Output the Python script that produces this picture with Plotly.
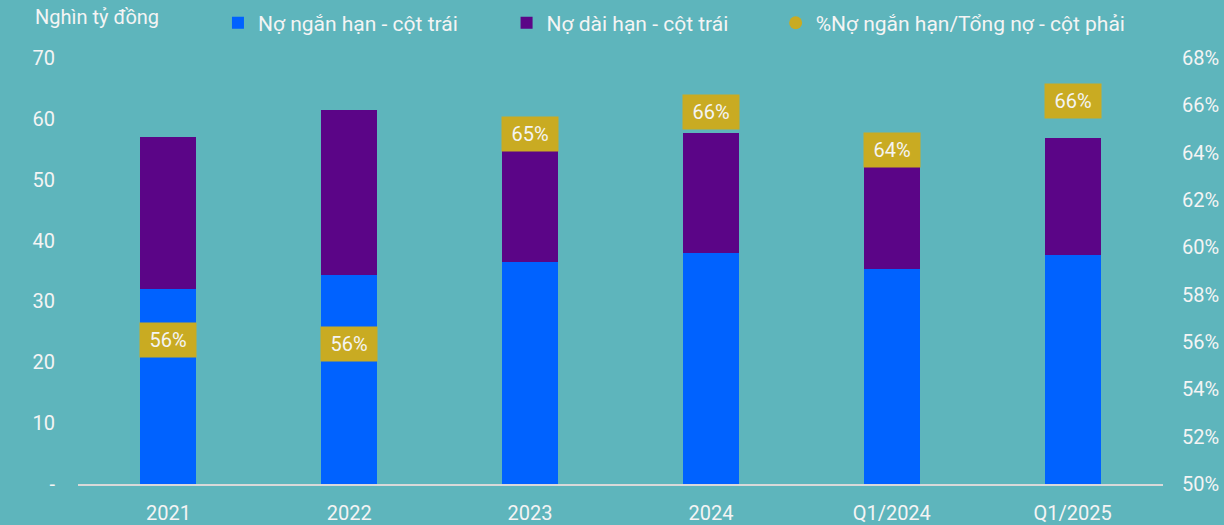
import plotly.graph_objects as go

CATEGORIES = ["2021", "2022", "2023", "2024", "Q1/2024", "Q1/2025"]
SHORT_TERM = [32.0, 34.3, 36.5, 37.9, 35.3, 37.7]
LONG_TERM = [25.0, 27.1, 19.8, 19.8, 19.8, 19.2]
SHORT_PCT = [56.1, 55.9, 64.8, 65.7, 64.1, 66.2]

LEFT_TICKS = [0, 10, 20, 30, 40, 50, 60, 70]
LEFT_TICK_TEXT = ["-", "10", "20", "30", "40", "50", "60", "70"]

BG = "#5EB5BC"
BLUE = "#0062FF"
PURPLE = "#5B0587"
GOLD = "#C9AB22"
TXT = "#F4F4F4"
FONT = "Roboto"

_LEG = dict(orientation="h", xanchor="left", yref="container", y=0.956, yanchor="middle",
            font=dict(family=FONT, size=21, color=TXT), bgcolor="rgba(0,0,0,0)")

fig = go.Figure()
fig.add_trace(go.Bar(x=CATEGORIES, y=SHORT_TERM, name="Nợ ngắn hạn - cột trái",
                     marker=dict(color=BLUE, line=dict(width=0)), width=0.31, legend="legend"))
fig.add_trace(go.Bar(x=CATEGORIES, y=LONG_TERM, name="Nợ dài hạn - cột trái",
                     marker=dict(color=PURPLE, line=dict(width=0)), width=0.31, legend="legend2"))
# legend entry for the ratio series; the labelled boxes are drawn as annotations on y2
fig.add_trace(go.Scatter(x=[None], y=[None], yaxis="y2", mode="markers",
                         name="%Nợ ngắn hạn/Tổng nợ - cột phải", legend="legend3",
                         marker=dict(color=GOLD, symbol="circle", size=13)))

# category axis: position annotations by category index
for i, pct in enumerate(SHORT_PCT):
    fig.add_annotation(x=i, y=pct, xref="x", yref="y2", text=f"{pct:.0f}%",
                       showarrow=False, bgcolor=GOLD, width=52, height=30, borderpad=2,
                       font=dict(family=FONT, size=20, color=TXT))

fig.add_annotation(x=-0.0415, y=1.096, xref="paper", yref="paper", text="Nghìn tỷ đồng",
                   showarrow=False, xanchor="left", yanchor="middle",
                   font=dict(family=FONT, size=20, color=TXT))

fig.update_layout(
    width=1224, height=525,
    barmode="stack",
    paper_bgcolor=BG, plot_bgcolor=BG,
    font=dict(family=FONT, size=20, color=TXT),
    margin=dict(l=78, r=61, t=58, b=41, autoexpand=False),
    showlegend=True,
    legend=dict(x=0.129, **_LEG),
    legend2=dict(x=0.395, **_LEG),
    legend3=dict(x=0.643, **_LEG),
    xaxis=dict(type="category", range=[-0.5, 5.5], showgrid=False, showline=True,
               linecolor="#D9D9D9", linewidth=2, ticks="", ticklabelstandoff=10,
               automargin=False),
    yaxis=dict(range=[0, 70], tickvals=LEFT_TICKS, ticktext=LEFT_TICK_TEXT,
               showgrid=False, zeroline=False, ticklabelstandoff=22, automargin=False),
    yaxis2=dict(range=[50, 68], dtick=2, ticksuffix="%", overlaying="y", side="right",
                showgrid=False, zeroline=False, ticklabelstandoff=18, automargin=False),
)

fig.write_html("out.html", config={"displayModeBar": False},
               post_script="document.body.style.margin='0px';")
